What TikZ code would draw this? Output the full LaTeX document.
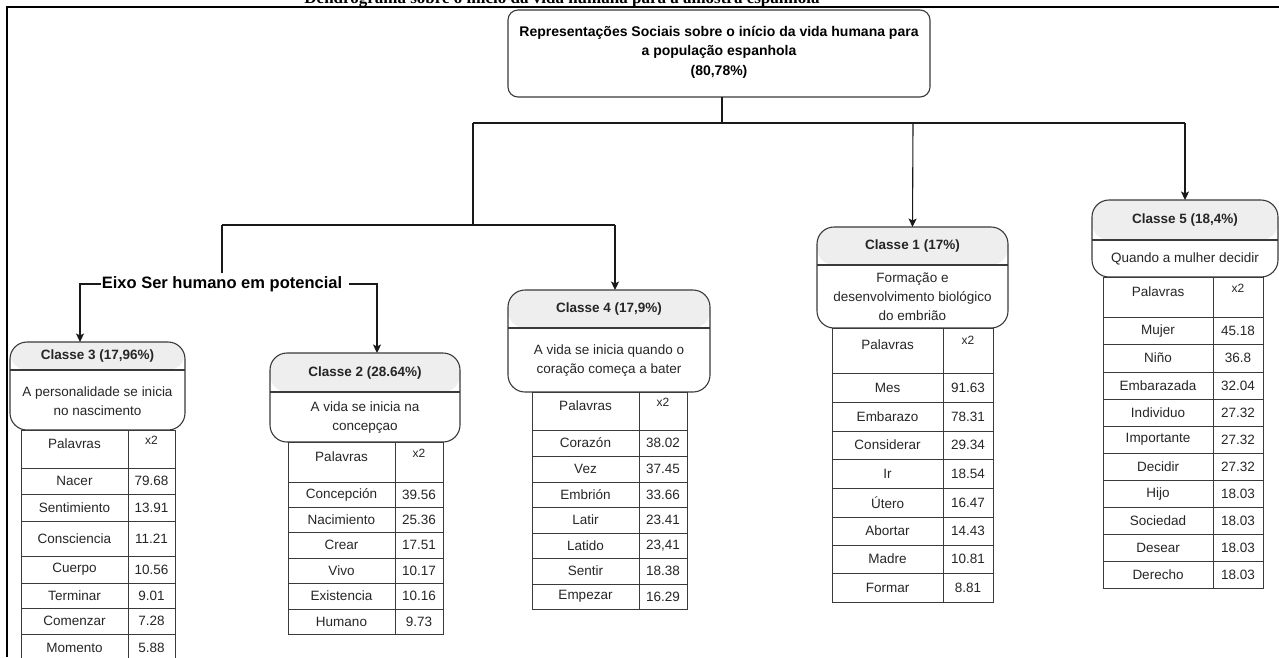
\documentclass[tikz,border=0pt]{standalone}
\usepackage{fontspec}
\setmainfont{Liberation Sans}
\newfontfamily\serifcap{Liberation Serif}
\usetikzlibrary{arrows.meta,calc}
\definecolor{hdrgray}{HTML}{EEEEEE}
\definecolor{linegray}{HTML}{3A3A3A}
\definecolor{txtcol}{HTML}{262626}
\tikzset{
  conn/.style={draw=black!90, line width=1.1pt},
  arr/.style={conn, -{Stealth[length=8.5pt,width=8pt,inset=2pt]}},
  topbox/.style={draw=linegray, line width=1.1pt, rounded corners=10pt, fill=white,
    minimum width=422pt, minimum height=87pt, anchor=north west, inner sep=0pt, outer sep=0pt},
  clsbox/.style={draw=linegray, line width=1.1pt, rounded corners=17pt, fill=white,
    inner sep=0pt, outer sep=0pt, anchor=north west,
    path picture={
      \fill[hdrgray] (path picture bounding box.north west) rectangle ([yshift=-#1pt]path picture bounding box.north east);
      \draw[linegray, line width=1.1pt] ([yshift=-#1pt]path picture bounding box.north west) -- ([yshift=-#1pt]path picture bounding box.north east);
    }},
  hdrtxt/.style={font=\bfseries\fontsize{13.5}{16}\selectfont, text=txtcol, inner sep=0pt},
  desctxt/.style={font=\fontsize{13.5}{19}\selectfont, text=txtcol, align=center, inner sep=0pt},
  tabline/.style={draw=linegray, line width=1pt},
  tabtxt/.style={font=\fontsize{13.5}{16}\selectfont, text=txtcol, inner sep=0pt},
  x2txt/.style={font=\fontsize{12}{14}\selectfont, text=txtcol, inner sep=0pt},
  eixotxt/.style={font=\bfseries\fontsize{16.5}{19}\selectfont, text=black, inner xsep=1pt, inner ysep=3pt},
  titletxt/.style={font=\bfseries\fontsize{14}{19.5}\selectfont, text=black, align=center, inner sep=0pt},
}
\newcommand{\wtable}[7]{%
  \draw[tabline] (#2,#5) rectangle (#4,#6);
  \draw[tabline] (#3,#5) -- (#3,#6);
  \node[tabtxt] (#1-hw) at ({(#2+#3)/2},{#5+0.36*(#6-#5)}) {Palavras};
  \node[x2txt] (#1-hv) at ({(#3+#4)/2},{#5+0.28*(#6-#5)}) {x2};
  \foreach \w/\v/\yb [remember=\yb as \ya (initially #6), count=\i] in {#7} {
    \draw[tabline] (#2,\ya) rectangle (#4,\yb);
    \draw[tabline] (#3,\ya) -- (#3,\yb);
    \node[tabtxt] (#1-w\i) at ({(#2+#3)/2},{(\ya+\yb)/2}) {\w};
    \node[tabtxt] (#1-v\i) at ({(#3+#4)/2},{(\ya+\yb)/2}) {\v};
  }%
}
\begin{document}
\begin{tikzpicture}[x=1pt,y=-1pt]
\useasboundingbox (0,0) rectangle (1279,657);
\fill[white] (0,0) rectangle (1279,657);
% cut caption at the very top
\begin{scope}
  \clip (0,0) rectangle (1279,7);
  \node[font=\serifcap\bfseries\fontsize{17}{19}\selectfont, anchor=base, inner sep=0pt] (cap) at (562,3) {Dendrograma sobre o início da vida humana para a amostra espanhola};
\end{scope}
% frame
\draw[line width=2.6pt, black] (7,657) -- (7,7) -- (1280,7);

% top box
\node[topbox] (top) at (508,10) {};
\node[titletxt] (toptxt) at (719,52) {Representações Sociais sobre o início da vida humana para\\a população espanhola\\(80,78\%)};

% class boxes
\node[clsbox=28, minimum width=175pt, minimum height=88pt] (c3) at (10,342) {};
\node[hdrtxt] (c3h) at (97.5,356) {Classe 3 (17,96\%)};
\node[desctxt] (c3d) at (97.5,401) {A personalidade se inicia\\no nascimento};

\node[clsbox=39, minimum width=190pt, minimum height=89pt] (c2) at (270,353) {};
\node[hdrtxt] (c2h) at (365,372.5) {Classe 2 (28.64\%)};
\node[desctxt] (c2d) at (365,418) {A vida se inicia na\\concepçao};

\node[clsbox=38, minimum width=202pt, minimum height=102pt] (c4) at (508,290) {};
\node[hdrtxt] (c4h) at (609,309) {Classe 4 (17,9\%)};
\node[desctxt] (c4d) at (609,361) {A vida se inicia quando o\\coração começa a bater};

\node[clsbox=38, minimum width=191pt, minimum height=101pt] (c1) at (817,227) {};
\node[hdrtxt] (c1h) at (912.5,246) {Classe 1 (17\%)};
\node[desctxt] (c1d) at (912.5,297) {Formação e\\desenvolvimento biológico\\do embrião};

\node[clsbox=40, minimum width=186pt, minimum height=77pt] (c5) at (1092,200) {};
\node[hdrtxt] (c5h) at (1185,220) {Classe 5 (18,4\%)};
\node[desctxt] (c5d) at (1185,259) {Quando a mulher decidir};

% tables
\wtable{t3}{21}{128}{175}{430}{468}{Nacer/79.68/494, Sentimiento/13.91/521, Consciencia/11.21/556, Cuerpo/10.56/583, Terminar/9.01/608, Comenzar/7.28/634, Momento/5.88/662}
\wtable{t2}{288}{395}{443}{442}{482}{Concepción/39.56/507, Nacimiento/25.36/532, Crear/17.51/558, Vivo/10.17/583, Existencia/10.16/609, Humano/9.73/634}
\wtable{t4}{532}{639}{687}{392}{430}{Corazón/38.02/456, Vez/37.45/482, Embrión/33.66/507, Latir/23.41/533, Latido/{23,41}/558, Sentir/18.38/584, Empezar/16.29/609}
\wtable{t1}{832}{943}{993}{328}{373}{Mes/91.63/402, Embarazo/78.31/431, Considerar/29.34/459, Ir/18.54/488, Útero/16.47/517, Abortar/14.43/545, Madre/10.81/573, Formar/8.81/602}
\wtable{t5}{1103}{1213}{1263}{277}{317}{Mujer/45.18/344, Niño/36.8/372, Embarazada/32.04/399, Individuo/27.32/426, Importante/27.32/453, Decidir/27.32/480, Hijo/18.03/507, Sociedad/18.03/534, Desear/18.03/561, Derecho/18.03/588}

% Eixo label
\node[eixotxt] (eixo) at (222,284) {Eixo Ser humano em potencial};

% junctions
\coordinate (jt) at (722,123);
\coordinate (jl) at (473,123);
\coordinate (jr) at (1185,123);
\coordinate (j1) at (913,123);
\coordinate (jm) at (473,225);
\coordinate (jml) at (222,225);
\coordinate (jmr) at (615,225);

% connectors
\draw[conn] (top.south -| jt) -- (jt);
\draw[conn] (jl) -- (jr);
\draw[arr] (jr) -- (c5.north);
\draw[arr] (j1) -- (c1.north);
\draw[conn] (jl) -- (jm);
\draw[conn] (jml) -- (jmr);
\draw[arr] (jmr) -- (jmr |- c4.north);
\draw[conn] (jml) -- (eixo.north);
\draw[arr] (eixo.west) -| ([xshift=-17.5pt]c3.north);
\draw[arr] ([xshift=6pt]eixo.east) -| ([xshift=12pt]c2.north);
\end{tikzpicture}
\end{document}
